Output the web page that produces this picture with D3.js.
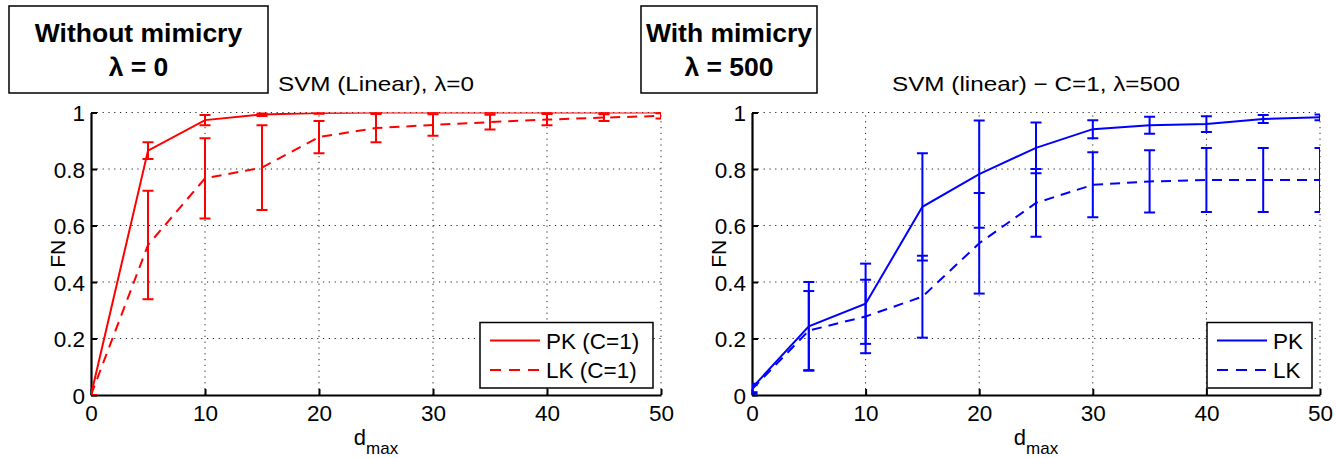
<!DOCTYPE html>
<html>
<head>
<meta charset="utf-8">
<script src="https://cdn.jsdelivr.net/npm/d3@7"></script>
<style>
  html, body { margin: 0; padding: 0; background: #fff; }
  svg { display: block; font-family: "Liberation Sans", Arial, Helvetica, sans-serif; }
</style>
</head>
<body>
<svg id="chart" width="1336" height="458"></svg>
<script>
// d_max sweep shared by both panels
const dmax = [0, 5, 10, 15, 20, 25, 30, 35, 40, 45, 50];
const xTicks = [0, 10, 20, 30, 40, 50];
const yTicks = [0, 0.2, 0.4, 0.6, 0.8, 1];
const yTickLabels = ["0", "0.2", "0.4", "0.6", "0.8", "1"];

// Without mimicry (lambda = 0)
const pkNoMim    = [0, 0.865, 0.973, 0.993, 0.998, 1, 1, 1, 1, 1, 1];
const pkNoMimErr = [0, 0.03, 0.018, 0.005, 0.002, 0, 0, 0, 0, 0, 0];
const lkNoMim    = [0, 0.531, 0.767, 0.805, 0.913, 0.945, 0.956, 0.966, 0.975, 0.982, 0.988];
const lkNoMimErr = [0, 0.192, 0.142, 0.15, 0.057, 0.05, 0.038, 0.026, 0.02, 0.012, 0.009];

// With mimicry (lambda = 500)
const pkMim    = [0.025, 0.243, 0.323, 0.666, 0.782, 0.875, 0.941, 0.955, 0.959, 0.977, 0.983];
const pkMimErr = [0.015, 0.157, 0.142, 0.19, 0.19, 0.09, 0.032, 0.03, 0.028, 0.014, 0.01];
const lkMim    = [0.02, 0.228, 0.278, 0.348, 0.537, 0.68, 0.744, 0.756, 0.761, 0.761, 0.761];
const lkMimErr = [0.015, 0.14, 0.13, 0.145, 0.178, 0.12, 0.115, 0.11, 0.113, 0.113, 0.113];

const panels = [
  {
    id: "left", x0: 91, x1: 661, color: "#ff0000",
    boxLabel: ["Without mimicry", "λ = 0"], box: { x: 9, w: 259 },
    title: "SVM (Linear), λ=0", titleLen: 196,
    series: [
      { name: "PK (C=1)", y: pkNoMim, e: pkNoMimErr, dash: null },
      { name: "LK (C=1)", y: lkNoMim, e: lkNoMimErr, dash: "10,7" }
    ],
    legend: { x: 480, w: 173 }
  },
  {
    id: "right", x0: 752, x1: 1320, color: "#0000ff",
    boxLabel: ["With mimicry", "λ = 500"], box: { x: 641, w: 176 },
    title: "SVM (linear) − C=1, λ=500", titleLen: 288,
    series: [
      { name: "PK", y: pkMim, e: pkMimErr, dash: null },
      { name: "LK", y: lkMim, e: lkMimErr, dash: "10,7" }
    ],
    legend: { x: 1207, w: 105 }
  }
];

const svg = d3.select("#chart");
const yTop = 112.5, yBot = 395;

panels.forEach(p => {
  const x = d3.scaleLinear().domain([0, 50]).range([p.x0, p.x1]);
  const y = d3.scaleLinear().domain([0, 1]).range([yBot, yTop]);
  const g = svg.append("g");

  // header box
  g.append("rect").attr("x", p.box.x).attr("y", 6).attr("width", p.box.w).attr("height", 87)
    .attr("fill", "#fff").attr("stroke", "#000").attr("stroke-width", 1.5);
  p.boxLabel.forEach((t, i) => {
    g.append("text").attr("x", p.box.x + p.box.w / 2).attr("y", i === 0 ? 42 : 76)
      .attr("text-anchor", "middle").attr("font-size", 26.5).attr("font-weight", "bold")
      .text(t);
  });

  // panel title
  g.append("text").attr("x", (p.x0 + p.x1) / 2).attr("y", 91)
    .attr("text-anchor", "middle").attr("font-size", 21)
    .attr("textLength", p.titleLen).attr("lengthAdjust", "spacingAndGlyphs")
    .text(p.title);

  // dotted grid
  const grid = g.append("g").attr("stroke", "#222").attr("stroke-width", 1).attr("stroke-dasharray", "1.2,4.6");
  xTicks.filter(v => v > 0).forEach(v => {
    grid.append("line").attr("x1", x(v)).attr("x2", x(v)).attr("y1", yBot).attr("y2", yTop);
  });
  yTicks.filter(v => v > 0).forEach(v => {
    grid.append("line").attr("x1", p.x0).attr("x2", p.x1).attr("y1", y(v)).attr("y2", y(v));
  });

  // axes with inward ticks
  const xAxis = d3.axisBottom(x).tickValues(xTicks).tickSizeInner(-6).tickSizeOuter(0).tickPadding(12);
  const yAxis = d3.axisLeft(y).tickValues(yTicks).tickFormat((d, i) => yTickLabels[i])
    .tickSizeInner(-6).tickSizeOuter(0).tickPadding(12);

  const gx = g.append("g").attr("transform", `translate(0,${yBot})`).call(xAxis);
  const gy = g.append("g").attr("transform", `translate(${p.x0},0)`).call(yAxis);
  [gx, gy].forEach(a => {
    a.select(".domain").attr("stroke", "#000").attr("stroke-width", 2.2);
    a.selectAll(".tick line").attr("stroke", "#000").attr("stroke-width", 2);
    a.selectAll(".tick text").attr("font-size", 22.5).attr("fill", "#000")
      .attr("font-family", "Liberation Sans, Arial, sans-serif");
  });
  gx.selectAll(".tick text").attr("dy", "0.71em").attr("y", 10);
  gy.selectAll(".tick text").attr("x", -6).attr("dy", "0.36em");

  // axis labels
  const xl = g.append("text").attr("x", (p.x0 + p.x1) / 2).attr("y", 445)
    .attr("text-anchor", "middle").attr("font-size", 22);
  xl.append("tspan").text("d");
  xl.append("tspan").attr("font-size", 17).attr("dy", 9).text("max");
  g.append("text").attr("transform", `translate(${p.x0 - 26},${(yTop + yBot) / 2}) rotate(-90)`)
    .attr("text-anchor", "middle").attr("font-size", 21).text("FN");

  // clipped data layer
  const clipId = "clip-" + p.id;
  svg.append("clipPath").attr("id", clipId).append("rect")
    .attr("x", p.x0).attr("y", yTop).attr("width", p.x1 - p.x0).attr("height", yBot - yTop);
  const data = g.append("g").attr("clip-path", `url(#${clipId})`);

  const line = d3.line().x(d => x(d[0])).y(d => y(d[1]));
  p.series.forEach(s => {
    const pts = dmax.map((d, i) => [d, s.y[i], s.e[i]]);
    data.append("path").datum(pts).attr("d", line).attr("fill", "none")
      .attr("stroke", p.color).attr("stroke-width", 2)
      .attr("stroke-dasharray", s.dash);
    const eb = data.append("g").attr("stroke", p.color).attr("stroke-width", 2);
    pts.forEach(([d, v, e]) => {
      const cx = x(d), yl = y(v - e), yh = y(v + e);
      eb.append("line").attr("x1", cx).attr("x2", cx).attr("y1", yl).attr("y2", yh);
      eb.append("line").attr("x1", cx - 5.5).attr("x2", cx + 5.5).attr("y1", yl).attr("y2", yl);
      eb.append("line").attr("x1", cx - 5.5).attr("x2", cx + 5.5).attr("y1", yh).attr("y2", yh);
    });
  });

  // legend
  const lg = g.append("g");
  lg.append("rect").attr("x", p.legend.x).attr("y", 322.5).attr("width", p.legend.w).attr("height", 65.5)
    .attr("fill", "#fff").attr("stroke", "#000").attr("stroke-width", 1.5);
  p.series.forEach((s, i) => {
    const ly = 340.5 + i * 29.5;
    lg.append("line").attr("x1", p.legend.x + 10).attr("x2", p.legend.x + 60)
      .attr("y1", ly).attr("y2", ly).attr("stroke", p.color).attr("stroke-width", 2)
      .attr("stroke-dasharray", s.dash ? "11,8" : null);
    lg.append("text").attr("x", p.legend.x + 66).attr("y", ly).attr("dy", "0.36em")
      .attr("font-size", 22.5).text(s.name);
  });
});
</script>
</body>
</html>
